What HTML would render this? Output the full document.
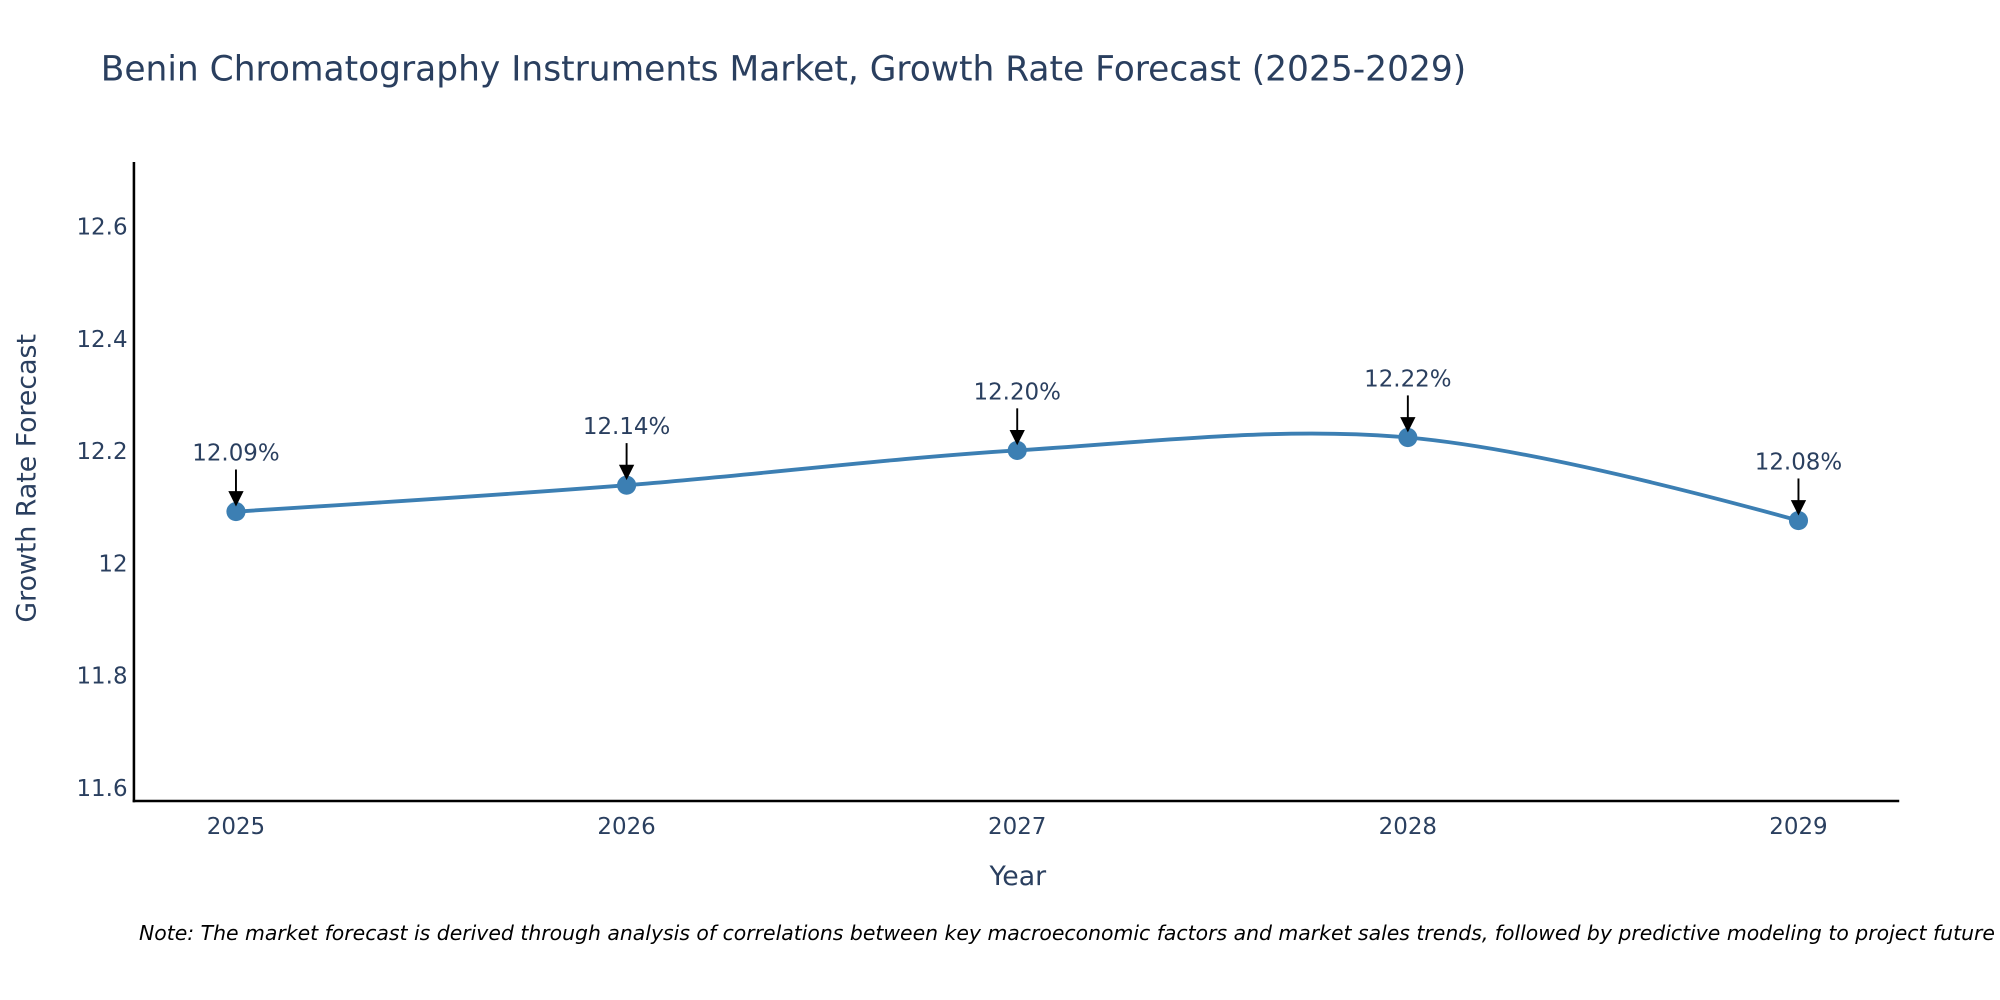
<!DOCTYPE html>
<html><head><meta charset="utf-8"><style>
html,body{margin:0;padding:0;background:#fff;}
svg{display:block;font-family:"DejaVu Sans","Liberation Sans",sans-serif;}
</style></head><body>
<svg id="chart" width="2000" height="1000" viewBox="0 0 1568 784" preserveAspectRatio="none" xmlns="http://www.w3.org/2000/svg">
<rect width="1568" height="784" fill="#fff"/>
<text x="79" y="63" font-size="27" fill="#2a3f5f">Benin Chromatography Instruments Market, Growth Rate Forecast (2025-2029)</text>
<g id="yticks"></g><g id="xticks"></g>
<line x1="105" y1="127" x2="105" y2="629" stroke="#000" stroke-width="2"/>
<line x1="104" y1="628" x2="1489" y2="628" stroke="#000" stroke-width="2"/>
<text transform="translate(28,375) rotate(-90)" text-anchor="middle" font-size="21" fill="#2a3f5f">Growth Rate Forecast</text>
<text x="798" y="694" text-anchor="middle" font-size="21" fill="#2a3f5f">Year</text>
<g id="series"></g>
<text x="109" y="737" font-size="16" font-style="italic" fill="#000">Note: The market forecast is derived through analysis of correlations between key macroeconomic factors and market sales trends, followed by predictive modeling to project future sales.</text>
</svg>
<script>
const years = [2025, 2026, 2027, 2028, 2029];
const values = [12.093, 12.14, 12.202, 12.225, 12.077];
const labels = ["12.09%", "12.14%", "12.20%", "12.22%", "12.08%"];
const yTicks = [11.6, 11.8, 12, 12.2, 12.4, 12.6];
const yTickLabels = ["11.6", "11.8", "12", "12.2", "12.4", "12.6"];

const NS = "http://www.w3.org/2000/svg";
function xs(v){ return 185 + (v - 2025) * 306.25; }
function ys(v){ return 442 - (v - 12) * 440; }
function mk(tag, attrs, parent){ const e=document.createElementNS(NS,tag); for(const k in attrs) e.setAttribute(k,attrs[k]); parent.appendChild(e); return e; }

const yg=document.getElementById('yticks');
yTicks.forEach((t,i)=>{
  const e=mk('text',{x:100,y:ys(t)+6,'text-anchor':'end','font-size':18,fill:'#2a3f5f'},yg);
  
  
  e.textContent=yTickLabels[i];
});
const xg=document.getElementById('xticks');
years.forEach(y=>{
  const e=mk('text',{x:xs(y),y:654,'text-anchor':'middle','font-size':18,fill:'#2a3f5f'},xg);
  
  
  e.textContent=String(y);
});

const pts=years.map((y,i)=>[xs(y),ys(values[i])]);
function tangent(p,t,n,s){
  const d1x=p[0]-t[0],d1y=p[1]-t[1],d2x=n[0]-t[0],d2y=n[1]-t[1];
  const d1a=Math.pow(d1x*d1x+d1y*d1y,0.25),d2a=Math.pow(d2x*d2x+d2y*d2y,0.25);
  const nx=(d2a*d2a*d1x-d1a*d1a*d2x)*s,ny=(d2a*d2a*d1y-d1a*d1a*d2y)*s;
  const den1=3*d2a*(d1a+d2a),den2=3*d1a*(d1a+d2a);
  return [[t[0]+nx/den1,t[1]+ny/den1],[t[0]-nx/den2,t[1]-ny/den2]];
}
const tg=[];
for(let i=1;i<pts.length-1;i++) tg.push(tangent(pts[i-1],pts[i],pts[i+1],1));
let d='M'+pts[0]+'Q'+tg[0][0]+' '+pts[1];
for(let i=2;i<pts.length-1;i++) d+='C'+tg[i-2][1]+' '+tg[i-1][0]+' '+pts[i];
d+='Q'+tg[pts.length-3][1]+' '+pts[pts.length-1];
const sg=document.getElementById('series');
const line=mk('path',{d:d,fill:'none',stroke:'#3c7fb3','stroke-width':3},sg);


pts.forEach((p,i)=>{
  const c=mk('circle',{cx:p[0],cy:p[1],r:7.5,fill:'#3c7fb3'},sg);
  
  
  const a=mk('line',{x1:p[0],y1:p[1]-33,x2:p[0],y2:p[1]-14,stroke:'#000','stroke-width':1.5},sg);
  
  
  const h=mk('polygon',{points:(p[0]-6)+','+(p[1]-16)+' '+(p[0]+6)+','+(p[1]-16)+' '+p[0]+','+(p[1]-4),fill:'#000'},sg);
  
  
  const t=mk('text',{x:p[0],y:p[1]-40,'text-anchor':'middle','font-size':18,fill:'#2a3f5f'},sg);
  
  
  t.textContent=labels[i];
});
</script>
</body></html>
